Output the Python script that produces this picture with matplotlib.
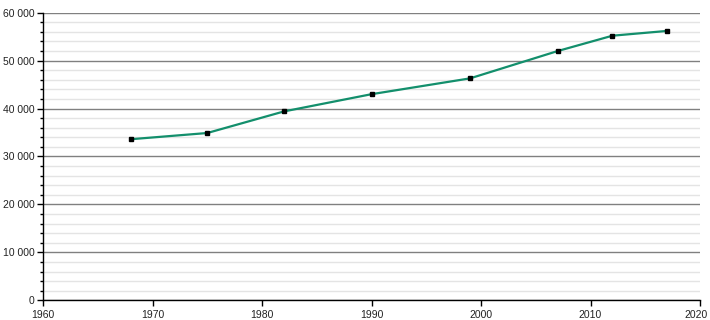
import matplotlib
matplotlib.use("Agg")
import matplotlib.pyplot as plt
import matplotlib.transforms as mtransforms
from matplotlib.ticker import MultipleLocator, FuncFormatter

plt.rcParams['font.family'] = ['Liberation Sans', 'DejaVu Sans']

years = [1968, 1975, 1982, 1990, 1999, 2007, 2012, 2017]
population = [33600, 34900, 39400, 43000, 46300, 52000, 55200, 56200]
x_ticks = [1960, 1970, 1980, 1990, 2000, 2010, 2020]


def fmt_thousands(v, pos):
    return "{:,}".format(int(v)).replace(",", " ")


fig = plt.figure(figsize=(7.1, 3.2), dpi=100)
ax = fig.add_axes([43 / 710, 19.7 / 320, 657 / 710, 287.6 / 320])

ax.set_xlim(1960, 2020)
ax.set_ylim(0, 60000)
ax.set_xticks(x_ticks)
ax.yaxis.set_major_locator(MultipleLocator(10000))
ax.yaxis.set_minor_locator(MultipleLocator(2000))
ax.yaxis.set_major_formatter(FuncFormatter(fmt_thousands))

ax.grid(axis="y", which="major", color="#808080", linewidth=1)
ax.grid(axis="y", which="minor", color="#e4e4e4", linewidth=1)
ax.set_axisbelow(True)

ax.plot(years, population, color="#138f6c", linewidth=1.6, marker="s",
        markersize=3.2, markerfacecolor="black", markeredgecolor="black", zorder=3)

for side in ("top", "right"):
    ax.spines[side].set_visible(False)
for side in ("left", "bottom"):
    ax.spines[side].set_color("black")
    ax.spines[side].set_linewidth(1)

ax.tick_params(axis="both", which="major", length=4, width=1, labelsize=7.5,
               colors="black", labelcolor="#222222")
ax.tick_params(axis="x", which="major", pad=3)
ax.tick_params(axis="y", which="major", pad=2)
ax.tick_params(axis="y", which="minor", length=2.5, width=1, color="black")

# keep the last year label inside the picture
lab = ax.xaxis.get_major_ticks()[-1].label1
shift = mtransforms.ScaledTranslation(-4 / 100, 0, fig.dpi_scale_trans)
lab.set_transform(lab.get_transform() + shift)

fig.savefig("out.png", dpi=100)
